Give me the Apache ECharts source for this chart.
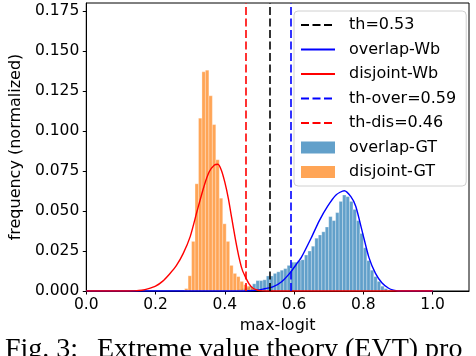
<!DOCTYPE html>
<html>
<head>
<meta charset="utf-8">
<script src="https://cdn.jsdelivr.net/npm/echarts@6/dist/echarts.min.js"></script>
<style>html,body{margin:0;padding:0;background:#fff;}#c{width:476px;height:356px;}</style>
</head>
<body>
<div id="c"></div>
<script>
// ---- data ----
var binWidth = 0.01;
var overlapBinLeft = [0.44,0.45,0.46,0.47,0.48,0.49,0.50,0.51,0.52,0.53,0.54,0.55,0.56,0.57,0.58,0.59,0.60,0.61,0.62,0.63,0.64,0.65,0.66,0.67,0.68,0.69,0.70,0.71,0.72,0.73,0.74,0.75,0.76,0.77,0.78,0.79,0.80,0.81,0.82,0.83,0.84,0.85,0.86,0.87];
var overlapFreq    = [0.001,0.0015,0.002,0.003,0.0045,0.0065,0.0065,0.007,0.0094,0.0094,0.011,0.012,0.013,0.014,0.016,0.018,0.018,0.019,0.0195,0.0225,0.025,0.028,0.033,0.035,0.037,0.040,0.0465,0.044,0.049,0.056,0.060,0.059,0.056,0.051,0.044,0.036,0.027,0.019,0.013,0.009,0.006,0.003,0.0015,0.0007];
var disjointBinLeft = [0.284,0.294,0.304,0.314,0.324,0.334,0.344,0.354,0.364,0.374,0.384,0.394,0.404,0.414,0.424,0.434,0.444,0.454,0.464,0.474,0.484];
var disjointFreq    = [0.0015,0.0095,0.031,0.067,0.108,0.137,0.138,0.122,0.104,0.082,0.058,0.042,0.031,0.016,0.011,0.009,0.006,0.004,0.003,0.002,0.001];
var overlapWbX = [0,0.44,0.47,0.49,0.51,0.54,0.564,0.587,0.611,0.621,0.649,0.673,0.697,0.721,0.745,0.764,0.778,0.797,0.816,0.835,0.854,0.873,0.887,0.90,1.0];
var overlapWbY = [0,0,0.0002,0.0005,0.0012,0.0027,0.0058,0.011,0.018,0.021,0.033,0.044,0.053,0.060,0.0627,0.059,0.053,0.037,0.021,0.011,0.005,0.0017,0.0005,0,0];
var disjointWbX = [0,0.12,0.14,0.16,0.18,0.20,0.22,0.24,0.26,0.28,0.30,0.32,0.34,0.355,0.37,0.38,0.39,0.40,0.41,0.42,0.43,0.44,0.45,0.46,0.47,0.48,0.49,0.50,0.52,1.0];
var disjointWbY = [0,0,0.0001,0.0005,0.0015,0.003,0.006,0.0105,0.0158,0.0235,0.034,0.050,0.0655,0.0745,0.0788,0.0792,0.0755,0.068,0.058,0.0455,0.033,0.022,0.0135,0.0085,0.0045,0.002,0.0008,0.0002,0,0];
var thAll = 0.53, thOver = 0.59, thDis = 0.46;
var xTicks = [0.0, 0.2, 0.4, 0.6, 0.8, 1.0];
var yTicks = [0.000, 0.025, 0.050, 0.075, 0.100, 0.125, 0.150, 0.175];

function zip(a, b) { return a.map(function (v, i) { return [v, b[i]]; }); }
function bins(left, freq) { return left.map(function (v, i) { return [v, v + binWidth, freq[i]]; }); }

var FONT = 'DejaVu Sans';
function histRender(params, api) {
  var p0 = api.coord([api.value(0), api.value(2)]);
  var p1 = api.coord([api.value(1), 0]);
  return {
    type: 'rect',
    shape: { x: p0[0], y: p0[1], width: p1[0] - p0[0], height: p1[1] - p0[1] },
    style: { fill: api.visual('color'), stroke: 'rgba(255,255,255,0.6)', lineWidth: 0.5 }
  };
}
function thLine(name, x, color) {
  return {
    name: name, type: 'line', data: [], symbol: 'none',
    lineStyle: { color: color, width: 1.6, type: [8, 3.5] },
    itemStyle: { color: color },
    markLine: {
      silent: true, symbol: 'none', label: { show: false },
      lineStyle: { color: color, width: 1.6, type: [8, 3.5] },
      data: [{ xAxis: x }]
    },
    z: 5
  };
}
var hideSym = { opacity: 0 };

var chart = echarts.init(document.getElementById('c'), null, { renderer: 'canvas' });
chart.setOption({
  animation: false,
  backgroundColor: '#fff',
  textStyle: { fontFamily: FONT },
  grid: { left: 83, right: 7, top: 3, bottom: 65, show: true, borderColor: '#000', borderWidth: 1, backgroundColor: 'transparent' },
  xAxis: {
    type: 'value', min: 0, max: 1.105, interval: 0.2,
    name: 'max-logit', nameLocation: 'middle', nameGap: 26,
    nameTextStyle: { fontSize: 16, color: '#000', fontFamily: FONT },
    axisLine: { lineStyle: { color: '#000', width: 1 } },
    axisTick: { show: true, length: 3.5, lineStyle: { color: '#000' } },
    axisLabel: { fontSize: 15.5, color: '#000', margin: 6, showMaxLabel: false, fontFamily: FONT,
      formatter: function (v) { return Math.abs(v * 10 - Math.round(v * 10)) < 1e-6 && xTicks.indexOf(Math.round(v * 10) / 10) >= 0 ? v.toFixed(1) : ''; } },
    splitLine: { show: false }
  },
  yAxis: {
    type: 'value', min: 0, max: 0.18, interval: 0.025,
    name: 'frequency (normalized)', nameLocation: 'middle', nameGap: 60,
    nameTextStyle: { fontSize: 16, color: '#000', fontFamily: FONT },
    axisLine: { show: true, lineStyle: { color: '#000', width: 1 } },
    axisTick: { show: true, length: 3.5, lineStyle: { color: '#000' } },
    axisLabel: { fontSize: 15.5, color: '#000', margin: 7, showMaxLabel: false, fontFamily: FONT,
      formatter: function (v) { return v.toFixed(3); } },
    splitLine: { show: false }
  },
  legend: {
    orient: 'vertical', left: 294, top: 11,
    padding: [6, 10, 6, 6], itemGap: 8.5, itemWidth: 34, itemHeight: 12,
    backgroundColor: 'rgba(255,255,255,0.85)', borderColor: '#d0d0d0', borderWidth: 1, borderRadius: 4,
    textStyle: { fontSize: 16, color: '#000', fontFamily: FONT, padding: [0, 0, 0, 9] },
    data: [
      { name: 'th=0.53', itemStyle: hideSym }, { name: 'overlap-Wb', itemStyle: hideSym }, { name: 'disjoint-Wb', itemStyle: hideSym },
      { name: 'th-over=0.59', itemStyle: hideSym }, { name: 'th-dis=0.46', itemStyle: hideSym },
      { name: 'overlap-GT', icon: 'rect' }, { name: 'disjoint-GT', icon: 'rect' }
    ]
  },
  series: [
    {
      name: 'overlap-GT', type: 'custom', renderItem: histRender, clip: true,
      itemStyle: { color: 'rgba(31,119,180,0.7)' },
      encode: { x: [0, 1], y: 2 }, data: bins(overlapBinLeft, overlapFreq), z: 1
    },
    {
      name: 'disjoint-GT', type: 'custom', renderItem: histRender, clip: true,
      itemStyle: { color: 'rgba(255,127,14,0.7)' },
      encode: { x: [0, 1], y: 2 }, data: bins(disjointBinLeft, disjointFreq), z: 2
    },
    {
      name: 'overlap-Wb', type: 'line', data: zip(overlapWbX, overlapWbY), symbol: 'none', smooth: 0.25,
      lineStyle: { color: '#0000ff', width: 1.4 }, itemStyle: { color: '#0000ff' }, z: 4
    },
    {
      name: 'disjoint-Wb', type: 'line', data: zip(disjointWbX, disjointWbY), symbol: 'none', smooth: 0.25,
      lineStyle: { color: '#ff0000', width: 1.4 }, itemStyle: { color: '#ff0000' }, z: 4
    },
    thLine('th=0.53', thAll, '#000000'),
    thLine('th-over=0.59', thOver, '#0000ff'),
    thLine('th-dis=0.46', thDis, '#ff0000')
  ],
  graphic: [
    { type: 'text', left: 5, top: 336, style: { text: 'Fig. 3:', font: '28px "Liberation Serif"', fill: '#000' } },
    { type: 'text', left: 97, top: 336, style: { text: 'Extreme value theory (EVT) pro', font: '28px "Liberation Serif"', fill: '#000' } }
  ]
});
</script>
</body>
</html>
